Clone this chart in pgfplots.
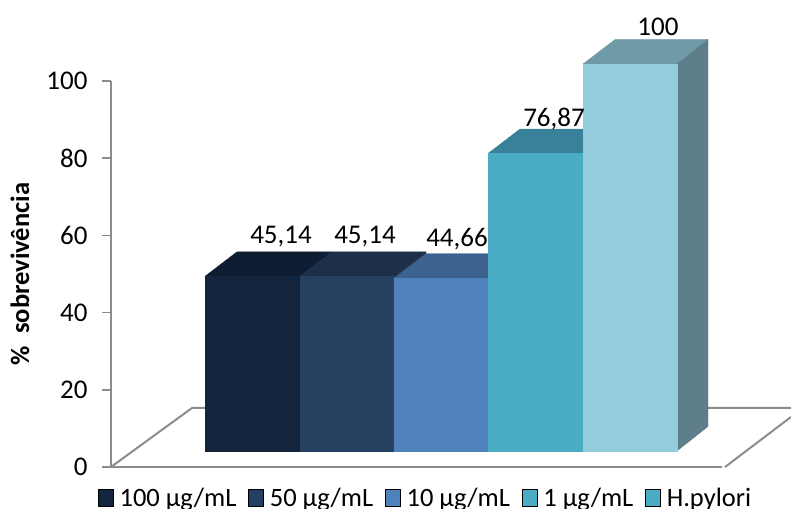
\documentclass[border=0pt]{standalone}
\usepackage{pgfplots}
\usepackage{fontspec}
\setmainfont{Carlito}
\pgfplotsset{compat=1.18}
\definecolor{frontA}{HTML}{12253D}
\definecolor{frontB}{HTML}{254061}
\definecolor{frontC}{HTML}{4F81BD}
\definecolor{frontD}{HTML}{4BACC6}
\definecolor{frontE}{HTML}{93CDDD}
\definecolor{topA}{HTML}{0E1D32}
\definecolor{topB}{HTML}{1D3049}
\definecolor{topC}{HTML}{3D6290}
\definecolor{topD}{HTML}{378299}
\definecolor{topE}{HTML}{6F9AA8}
\definecolor{sideE}{HTML}{5E7F8A}
\definecolor{framegray}{HTML}{8C8C8C}
\begin{document}
\begin{tikzpicture}
\path[use as bounding box] (0,0) rectangle (791pt,508pt);
\clip (0,0) rectangle (791pt,508pt);
% Axis with the percentage scale on the back wall
\begin{axis}[
  at={(111pt,41pt)}, anchor=origin,
  x=1pt, y=3.86pt, xmin=0, xmax=611, ymin=0, ymax=100,
  axis x line=bottom, axis y line=left,
  axis line style={framegray, line width=2.2pt, -},
  xtick=\empty, ytick={0,20,...,100},
  tick style={framegray, line width=1.6pt},
  major tick length=9pt,
  tick align=outside,
  tick label style={font=\fontsize{27}{30}\selectfont, black},
  yticklabel style={xshift=-11pt},
  /pgf/number format/assume math mode=true,
  ylabel={\bfseries\%\ \ sobrevivência},
  ylabel style={at={(axis description cs:-0.149,0.5)}, rotate=0, anchor=center,
    font=\fontsize{26.5}{30}\selectfont},
]
\end{axis}
% Bars in perspective: x runs in canvas units, y=0 is the front foot of the bars
\begin{axis}[
  at={(0pt,0pt)}, anchor=south west,
  x=1pt, y=3.87pt, xmin=0, xmax=791, ymin=-14.73, ymax=116.54,
  axis lines=none, clip=true,
  legend columns=5,
  legend cell align=left,
  legend style={at={(axis description cs:0.1239,0.0197)}, anchor=west, draw=none,
    fill=none, inner xsep=0pt, inner ysep=0pt,
    font=\fontsize{26.5}{30}\selectfont,
    /tikz/every odd column/.append style={column sep=4pt},
    /tikz/every even column/.append style={column sep=10pt}},
  legend image code/.code={\fill[#1] (0pt,-8.5pt) rectangle (15pt,8.5pt);},
  facet/.style={fill=#1, draw=#1, line width=0.3pt, forget plot},
]
% floor outline
\addplot[framegray, line width=2pt, forget plot] coordinates {(111,-4.13) (192,11.11) (791,11.11)};
\addplot[framegray, line width=2pt, forget plot] coordinates {(725,-4.13) (791,8.79)};
% 100 ug/mL
\addplot[facet=topA] coordinates {(205,45.14) (300,45.14) (332,51.47) (237,51.47)} -- cycle;
\addplot[facet=frontA] coordinates {(205,0) (205,45.14) (300,45.14) (300,0)} -- cycle;
% 50 ug/mL, with its side showing above the shorter neighbour
\addplot[facet=topB] coordinates {(394,0) (394,45.14) (426,51.47) (426,6.33)} -- cycle;
\addplot[facet=topB] coordinates {(300,45.14) (394,45.14) (426,51.47) (332,51.47)} -- cycle;
\addplot[facet=frontB] coordinates {(300,0) (300,45.14) (394,45.14) (394,0)} -- cycle;
% 10 ug/mL
\addplot[facet=topC] coordinates {(394,44.66) (488,44.66) (520,50.99) (426,50.99)} -- cycle;
\addplot[facet=frontC] coordinates {(394,0) (394,44.66) (488,44.66) (488,0)} -- cycle;
% 1 ug/mL
\addplot[facet=topD] coordinates {(488,76.87) (583,76.87) (615,83.2) (520,83.2)} -- cycle;
\addplot[facet=frontD] coordinates {(488,0) (488,76.87) (583,76.87) (583,0)} -- cycle;
% H. pylori control
\addplot[facet=topE] coordinates {(583,100) (677,100) (708,106.33) (615,106.33)} -- cycle;
\addplot[facet=sideE] coordinates {(677,0) (677,100) (708,106.33) (708,6.33)} -- cycle;
\addplot[facet=frontE] coordinates {(583,0) (583,100) (677,100) (677,0)} -- cycle;
% value labels
\addplot[draw=none, mark=none, forget plot,
  visualization depends on={\thisrow{dy}\as\labeldy},
  nodes near coords,
  point meta=y,
  nodes near coords style={anchor=center, yshift=\labeldy pt, black,
    font=\fontsize{27}{30}\selectfont,
    /pgf/number format/.cd, fixed, precision=2, use comma, assume math mode=true},
] table {
x   y      dy
281 45.14  40
365 45.14  40
457 44.66  39
554 76.87  34
658 100    37.5
};
\addlegendimage{fill=frontA}\addlegendentry{100 µg/mL}
\addlegendimage{fill=frontB}\addlegendentry{50 µg/mL}
\addlegendimage{fill=frontC}\addlegendentry{10 µg/mL}
\addlegendimage{fill=frontD}\addlegendentry{1 µg/mL}
\addlegendimage{fill=frontD}\addlegendentry{H.pylori}
\end{axis}
\end{tikzpicture}
\end{document}
